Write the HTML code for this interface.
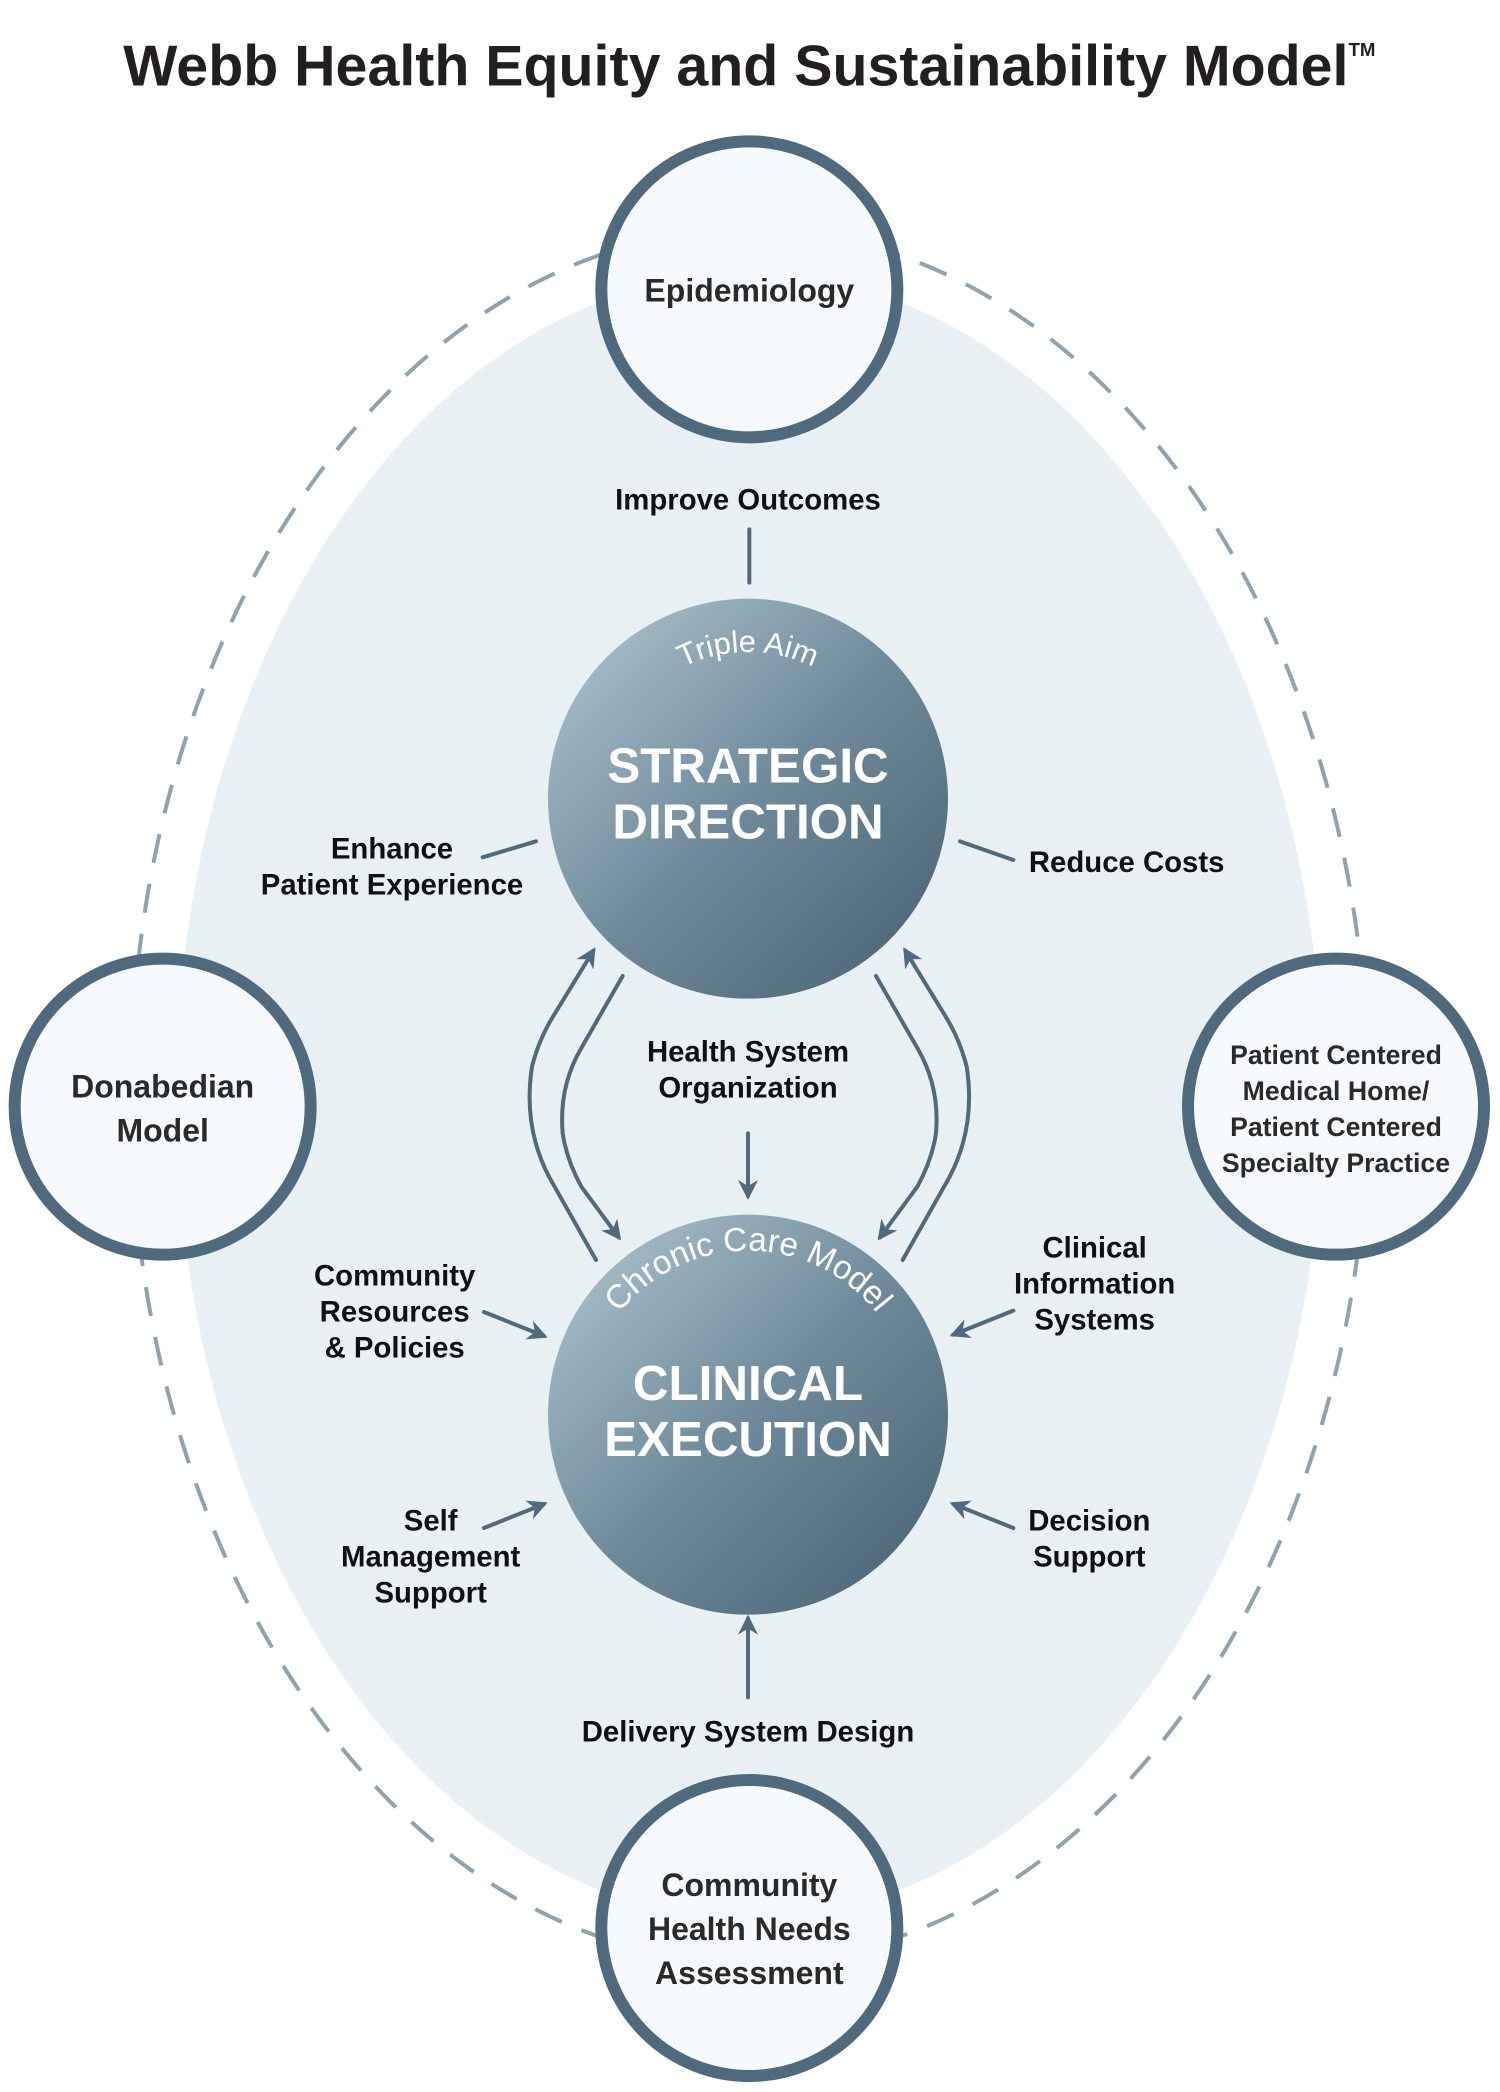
<!DOCTYPE html>
<html><head><meta charset="utf-8"><style>
html,body{margin:0;padding:0;background:#fff;width:1500px;height:2092px;overflow:hidden}
svg text{font-family:"Liberation Sans",sans-serif;font-weight:bold}
</style></head><body>
<svg width="1500" height="2092" viewBox="0 0 1125 1569" xmlns="http://www.w3.org/2000/svg">
<defs>
<linearGradient id="g" x1="0" y1="0" x2="1" y2="1">
<stop offset="0" stop-color="#b3c8d3"/><stop offset="0.5" stop-color="#6f8b9b"/><stop offset="1" stop-color="#455f71"/>
</linearGradient>
<marker id="a" viewBox="0 0 10 10" refX="8" refY="5" markerWidth="5" markerHeight="5" orient="auto"><path d="M0,0 L10,5 L0,10 L3,5 z" fill="#4f6a7c"/></marker>
<path id="arc1" d="M451,599 A110,110 0 0 1 671,599"/>
<path id="arc2" d="M438,1061 A123,123 0 0 1 684,1061"/>
</defs>
<text x="562" y="64" font-size="43" text-anchor="middle" fill="#231f20">Webb Health Equity and Sustainability Model<tspan font-size="14" dy="-22">TM</tspan></text>
<ellipse cx="562" cy="822" rx="430" ry="617" fill="#e9f0f4"/>
<ellipse cx="562" cy="822" rx="464" ry="650" fill="none" stroke="#8ea3b0" stroke-width="3" stroke-dasharray="22 16"/>
<g fill="#f7fafc" stroke="#4f6a7c" stroke-width="9">
<circle cx="562" cy="217" r="111"/>
<circle cx="122" cy="830" r="111"/>
<circle cx="1002" cy="830" r="111"/>
<circle cx="562" cy="1446" r="111"/>
</g>
<g fill="#2a2a2a" text-anchor="middle" font-size="24">
<text x="562" y="226">Epidemiology</text>
<text x="122" y="823">Donabedian</text><text x="122" y="856">Model</text>
<text x="562" y="1422">Community</text><text x="562" y="1455">Health Needs</text><text x="562" y="1488">Assessment</text>
<g font-size="20"><text x="1002" y="798">Patient Centered</text><text x="1002" y="825">Medical Home/</text><text x="1002" y="852">Patient Centered</text><text x="1002" y="879">Specialty Practice</text></g>
</g>
<circle cx="561" cy="599" r="150" fill="url(#g)"/>
<circle cx="561" cy="1061" r="150" fill="url(#g)"/>
<g fill="#fff" text-anchor="middle">
<text font-size="23" style="font-weight:normal"><textPath href="#arc1" startOffset="50%">Triple Aim</textPath></text>
<text font-size="25" style="font-weight:normal"><textPath href="#arc2" startOffset="50%">Chronic Care Model</textPath></text>
<text x="561" y="587" font-size="37">STRATEGIC</text><text x="561" y="629" font-size="37">DIRECTION</text>
<text x="561" y="1050" font-size="37">CLINICAL</text><text x="561" y="1092" font-size="37">EXECUTION</text>
</g>
<g fill="#111" font-size="22" text-anchor="middle">
<text x="561" y="382">Improve Outcomes</text>
<text x="294" y="644">Enhance</text><text x="294" y="671">Patient Experience</text>
<text x="845" y="654">Reduce Costs</text>
<text x="561" y="796">Health System</text><text x="561" y="823">Organization</text>
<text x="296" y="964">Community</text><text x="296" y="991">Resources</text><text x="296" y="1018">&amp; Policies</text>
<text x="821" y="943">Clinical</text><text x="821" y="970">Information</text><text x="821" y="997">Systems</text>
<text x="323" y="1148">Self</text><text x="323" y="1175">Management</text><text x="323" y="1202">Support</text>
<text x="817" y="1148">Decision</text><text x="817" y="1175">Support</text>
<text x="561" y="1306">Delivery System Design</text>
</g>
<g stroke="#4f6a7c" stroke-width="3" fill="none" stroke-linecap="round">
<line x1="562" y1="397" x2="562" y2="437"/>
<line x1="362" y1="643" x2="402" y2="631"/>
<line x1="720" y1="631" x2="760" y2="645"/>
<g marker-end="url(#a)">
<line x1="561" y1="850" x2="561" y2="897"/>
<line x1="363" y1="984" x2="408" y2="1002"/>
<line x1="760" y1="983" x2="715" y2="1001"/>
<line x1="363" y1="1146" x2="408" y2="1128"/>
<line x1="760" y1="1146" x2="715" y2="1128"/>
<line x1="561" y1="1273" x2="561" y2="1214"/>
<path d="M447,945 L412,883 Q392,845 399,800 Q404,780 415,762 L445,713"/>
<path d="M467,732 L436,786 Q419,815 422,850 Q425,870 436,890 L464,928"/>
<path d="M677,945 L712,883 Q732,845 725,800 Q720,780 709,762 L679,713"/>
<path d="M657,732 L688,786 Q705,815 702,850 Q699,870 688,890 L660,928"/>
</g>
</g>
</svg>
</body></html>
